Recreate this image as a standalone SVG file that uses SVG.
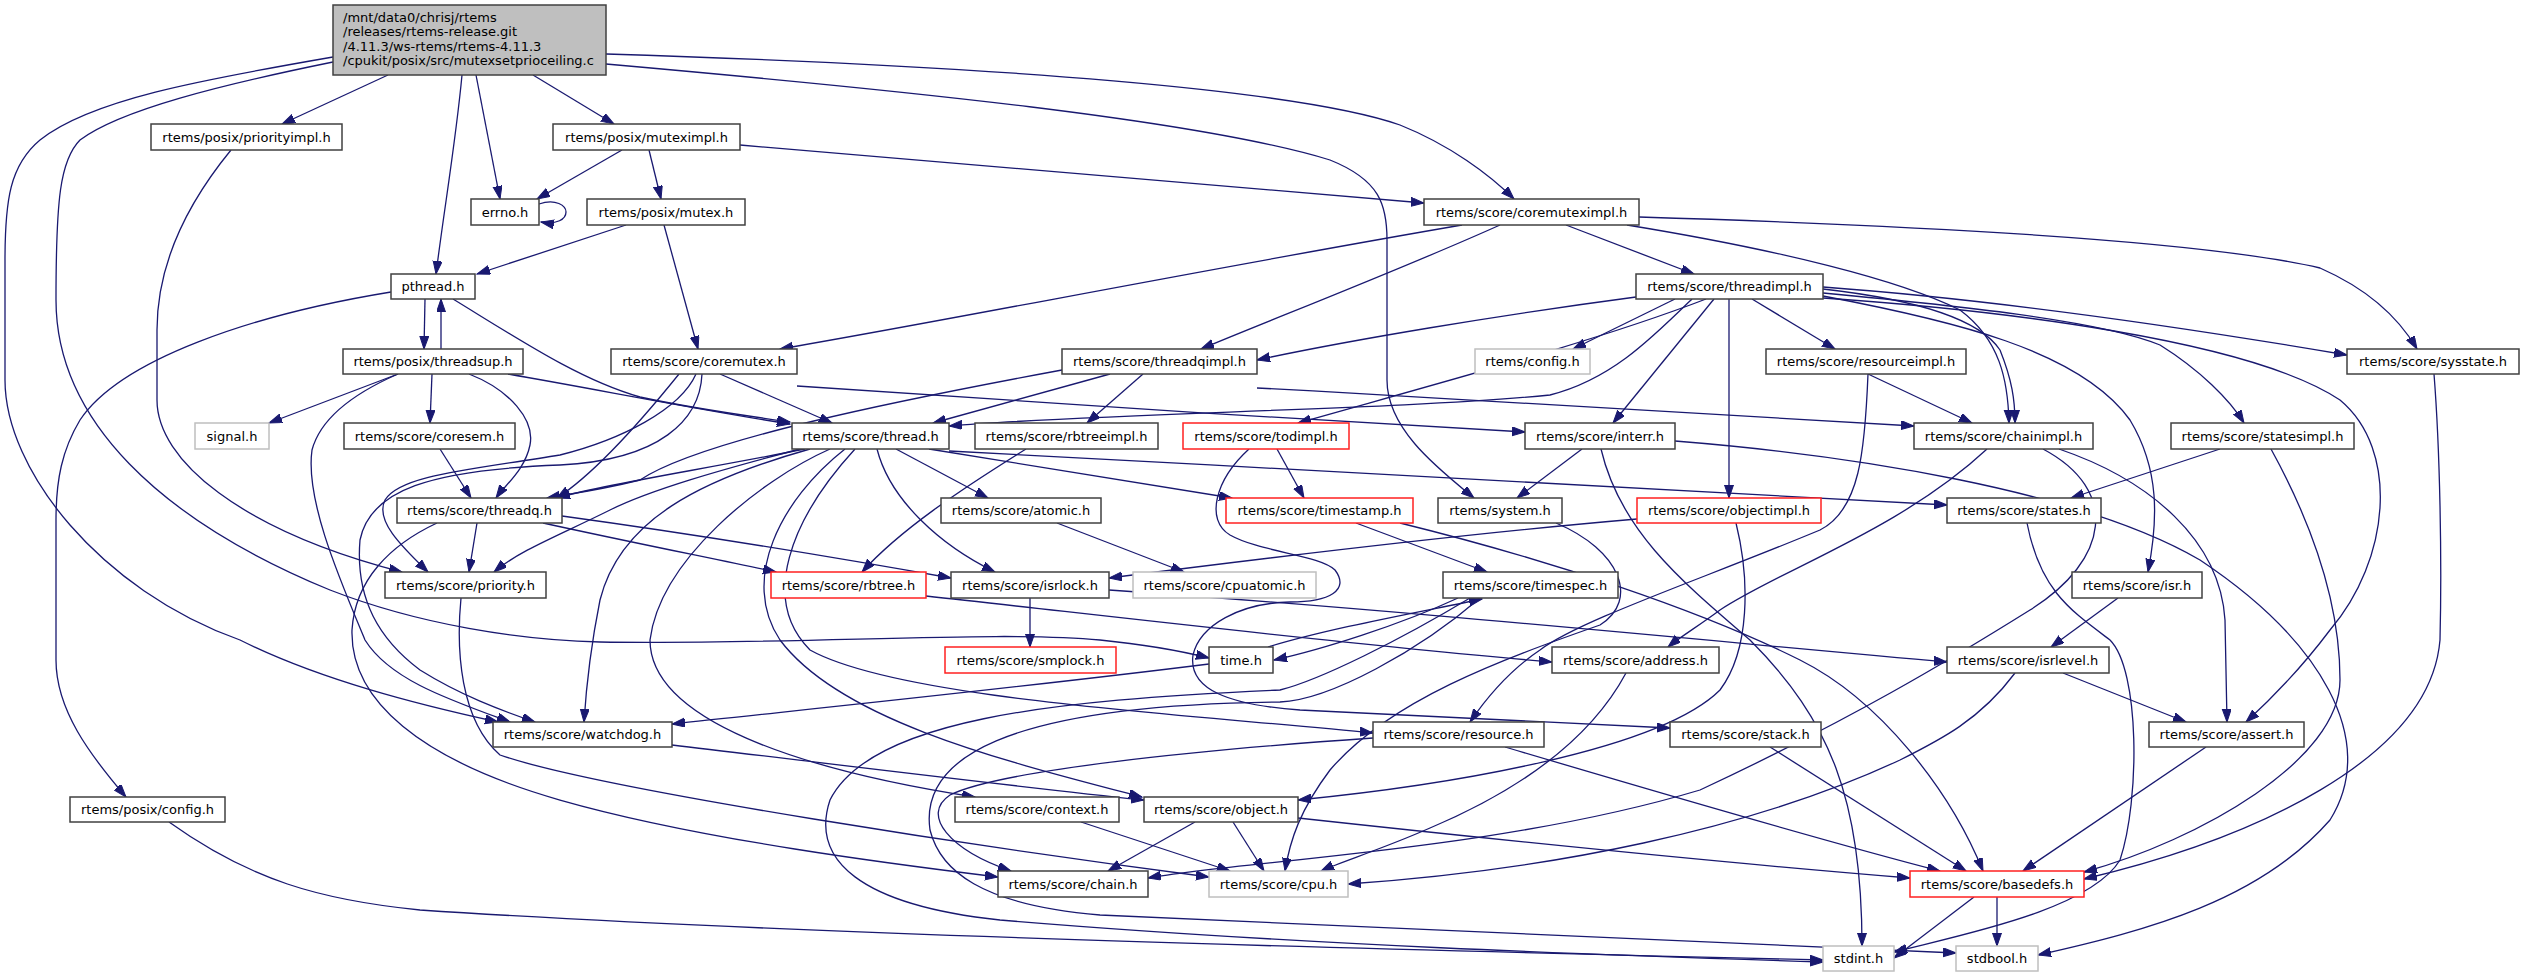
<svg xmlns="http://www.w3.org/2000/svg" width="2524" height="977" viewBox="0 0 2524 977">
<style>
.e{fill:none;stroke:#191970;stroke-width:1.3;marker-end:url(#ah)}
.n rect{fill:#fff;stroke:#404040;stroke-width:1.5}
.r rect{fill:#fff;stroke:#ff2020;stroke-width:1.5}
.g rect{fill:#fff;stroke:#bfbfbf;stroke-width:1.5}
text{font-family:"DejaVu Sans","Liberation Sans",sans-serif;font-size:13px;fill:#000}
.c{text-anchor:middle}
</style>
<defs>
<marker id="ah" markerUnits="userSpaceOnUse" markerWidth="14" markerHeight="10" refX="13" refY="4.5" orient="auto"><path d="M0,0 L13,4.5 L0,9 z" fill="#191970" stroke="#191970" stroke-width="1"/></marker>
</defs>
<rect width="2524" height="977" fill="#fff"/>
<g id="edges">
<path class="e" d="M388,75 L282,124"/>
<path class="e" d="M462,75 C456,140 444,210 436,274"/>
<path class="e" d="M476,75 L500,199"/>
<path class="e" d="M533,75 L614,124"/>
<path class="e" d="M606,54 C1000,66 1300,90 1400,125 C1450,145 1490,175 1514,199"/>
<path class="e" d="M606,64 C900,90 1200,120 1330,160 C1380,180 1387,205 1387,240 L1387,380 C1387,430 1440,470 1474,498"/>
<path class="e" d="M333,57 C200,80 90,100 40,140 C10,165 5,200 5,260 L5,380 C5,470 100,590 240,640 C320,680 420,705 498,722"/>
<path class="e" d="M333,62 C220,85 120,110 80,140 C60,160 56,200 56,300 C56,420 160,520 330,590 C420,625 520,640 600,642 C800,645 1000,630 1100,640 C1150,645 1185,652 1209,658"/>
<path class="e" d="M231,150 C190,200 157,260 157,330 L157,400 C157,460 240,530 402,572"/>
<path class="e" d="M622,150 L537,199"/>
<path class="e" d="M649,150 L661,199"/>
<path class="e" d="M740,145 C1000,168 1250,188 1424,203"/>
<path class="e" d="M539,204 C556,198 566,206 566,212 C566,219 557,225 541,222"/>
<path class="e" d="M626,225 L477,274"/>
<path class="e" d="M664,225 L698,349"/>
<path class="e" d="M1462,225 C1200,270 950,320 780,349"/>
<path class="e" d="M1500,225 C1400,270 1270,320 1201,349"/>
<path class="e" d="M1566,225 L1694,274"/>
<path class="e" d="M1627,225 C1780,250 1900,280 1960,310 C2000,340 2008,380 2009,423"/>
<path class="e" d="M1639,217 C1900,225 2200,240 2320,268 C2370,290 2400,320 2417,349"/>
<path class="e" d="M425,299 L424,349"/>
<path class="e" d="M441,349 L441,299"/>
<path class="e" d="M453,299 C520,340 580,380 640,397 C700,410 750,416 790,422"/>
<path class="e" d="M391,292 C250,315 120,360 80,420 C62,450 56,480 56,520 L56,660 C56,710 90,755 126,797"/>
<path class="e" d="M398,374 L269,423"/>
<path class="e" d="M432,374 L430,423"/>
<path class="e" d="M469,374 C510,390 535,420 530,445 C525,470 505,485 496,498"/>
<path class="e" d="M508,374 C600,390 700,410 790,424"/>
<path class="e" d="M398,374 C350,395 320,420 312,450 C305,500 340,580 365,640 C390,680 450,700 510,722"/>
<path class="e" d="M440,449 L471,498"/>
<path class="e" d="M679,374 C650,410 600,470 557,498"/>
<path class="e" d="M696,374 C680,410 620,440 560,455 C470,470 400,475 385,500 C375,520 400,545 428,572"/>
<path class="e" d="M702,374 C700,420 660,460 560,465 C430,470 370,490 360,540 C355,600 380,640 420,670 C460,695 500,710 535,722"/>
<path class="e" d="M720,374 L832,423"/>
<path class="e" d="M797,386 C1000,400 1300,420 1525,432"/>
<path class="e" d="M1110,374 L933,423"/>
<path class="e" d="M1062,370 C900,400 700,440 640,480 C600,490 570,494 547,498"/>
<path class="e" d="M1143,374 L1087,423"/>
<path class="e" d="M1257,388 C1500,400 1750,415 1914,426"/>
<path class="e" d="M1636,297 C1500,315 1350,340 1257,360"/>
<path class="e" d="M1692,299 C1650,340 1610,380 1550,395 C1400,410 1100,413 949,426"/>
<path class="e" d="M1675,299 L1573,349"/>
<path class="e" d="M1706,299 C1600,340 1450,380 1298,423"/>
<path class="e" d="M1714,299 L1613,423"/>
<path class="e" d="M1729,299 L1729,498"/>
<path class="e" d="M1752,299 L1835,349"/>
<path class="e" d="M1823,289 C1920,300 1980,320 2000,350 C2012,380 2015,400 2015,423"/>
<path class="e" d="M1823,293 C1950,305 2100,320 2160,345 C2200,370 2230,400 2244,423"/>
<path class="e" d="M1823,287 C2000,300 2200,330 2347,355"/>
<path class="e" d="M1823,296 C1950,320 2080,350 2130,420 C2160,470 2158,520 2148,572"/>
<path class="e" d="M1823,298 C2000,310 2250,340 2340,400 C2400,450 2390,560 2330,630 C2300,670 2270,700 2246,722"/>
<path class="e" d="M1868,374 L1972,423"/>
<path class="e" d="M1868,374 C1865,450 1860,510 1820,530 C1700,580 1580,620 1540,650 C1510,670 1485,700 1470,722"/>
<path class="e" d="M1026,449 C960,490 900,530 862,572"/>
<path class="e" d="M1277,449 L1304,498"/>
<path class="e" d="M1249,449 C1215,480 1205,520 1230,535 C1260,552 1320,555 1335,570 C1350,590 1330,602 1290,602 C1240,603 1200,625 1193,655 C1188,690 1230,705 1300,710 C1450,718 1580,724 1670,728"/>
<path class="e" d="M1582,449 L1517,498"/>
<path class="e" d="M1601,449 C1620,530 1680,580 1750,640 C1830,720 1862,800 1862,946"/>
<path class="e" d="M1675,441 C1850,455 2080,490 2200,560 C2320,640 2380,740 2330,820 C2260,900 2150,930 2038,955"/>
<path class="e" d="M1356,523 L1487,572"/>
<path class="e" d="M1400,523 C1550,560 1700,610 1800,660 C1880,700 1950,790 1983,871"/>
<path class="e" d="M1556,523 C1620,550 1640,600 1600,625 C1500,660 1390,700 1330,770 C1300,810 1290,840 1285,871"/>
<path class="e" d="M1637,519 C1450,535 1250,560 1109,578"/>
<path class="e" d="M1736,523 C1750,580 1750,650 1720,690 C1660,750 1450,785 1298,800"/>
<path class="e" d="M2027,523 C2040,590 2070,610 2110,640 C2140,670 2140,800 2120,860 C2090,910 1960,935 1894,952"/>
<path class="e" d="M2220,449 L2071,498"/>
<path class="e" d="M2271,449 C2310,520 2340,600 2340,680 C2340,760 2200,840 2084,872"/>
<path class="e" d="M2434,374 C2440,450 2442,560 2440,640 C2430,760 2250,840 2084,879"/>
<path class="e" d="M1987,449 C1900,530 1780,570 1720,610 C1700,625 1680,637 1668,647"/>
<path class="e" d="M2059,449 C2150,480 2220,540 2225,620 L2227,722"/>
<path class="e" d="M2043,449 C2120,490 2110,560 2030,610 C1950,660 1850,720 1700,790 C1500,850 1250,860 1148,878"/>
<path class="e" d="M2015,673 C1980,720 1940,740 1900,760 C1750,830 1550,870 1348,884"/>
<path class="e" d="M2118,598 L2051,647"/>
<path class="e" d="M2063,673 L2186,722"/>
<path class="e" d="M1030,598 L1030,647"/>
<path class="e" d="M1109,590 C1400,610 1700,640 1947,662"/>
<path class="e" d="M926,596 C1100,615 1350,645 1552,662"/>
<path class="e" d="M1057,523 L1184,572"/>
<path class="e" d="M805,449 C700,470 600,485 557,498"/>
<path class="e" d="M800,449 C720,470 650,490 610,510 C560,535 520,550 494,572"/>
<path class="e" d="M810,449 C700,480 620,520 600,600 C590,650 586,690 584,722"/>
<path class="e" d="M830,449 C760,480 660,560 650,640 C650,720 800,770 975,797"/>
<path class="e" d="M845,449 C780,500 740,580 780,640 C840,720 1000,760 1142,797"/>
<path class="e" d="M855,449 C790,520 760,600 810,650 C900,700 1200,715 1373,733"/>
<path class="e" d="M877,449 C890,500 940,545 995,572"/>
<path class="e" d="M896,449 L988,498"/>
<path class="e" d="M929,449 L1232,498"/>
<path class="e" d="M949,451 C1300,470 1700,490 1947,505"/>
<path class="e" d="M477,523 L469,572"/>
<path class="e" d="M562,516 C700,535 850,560 951,578"/>
<path class="e" d="M543,523 C620,540 720,560 776,572"/>
<path class="e" d="M437,523 C390,545 355,580 352,630 C350,700 420,760 560,800 C700,840 900,865 998,877"/>
<path class="e" d="M461,598 C456,650 460,720 500,755 C600,790 1000,850 1209,877"/>
<path class="e" d="M672,745 C800,760 1000,785 1144,800"/>
<path class="e" d="M1081,822 L1230,871"/>
<path class="e" d="M1195,822 L1108,871"/>
<path class="e" d="M1233,822 L1264,871"/>
<path class="e" d="M1298,818 C1500,840 1750,865 1910,878"/>
<path class="e" d="M1626,673 C1590,740 1520,790 1430,828 C1380,850 1340,862 1321,871"/>
<path class="e" d="M1373,738 C1200,750 1000,770 950,795 C920,815 950,850 1011,871"/>
<path class="e" d="M1505,747 C1650,790 1820,840 1940,871"/>
<path class="e" d="M1770,747 L1966,871"/>
<path class="e" d="M2206,747 L2023,871"/>
<path class="e" d="M1974,897 L1894,958"/>
<path class="e" d="M1997,897 L1997,946"/>
<path class="e" d="M169,822 C250,880 320,900 420,910 C800,935 1400,950 1823,960"/>
<path class="e" d="M1470,598 C1400,640 1320,680 1280,690 C1050,700 870,720 830,800 C810,860 860,905 1000,920 C1300,945 1600,955 1823,962"/>
<path class="e" d="M1480,598 C1420,650 1330,700 1280,702 C1000,705 920,760 930,830 C940,870 980,905 1100,915 C1500,935 1800,945 1956,953"/>
<path class="e" d="M1458,598 C1400,625 1320,650 1274,660"/>
<path class="e" d="M1268,647 C1330,628 1420,612 1482,599"/>
<path class="e" d="M1209,664 C1000,690 800,710 672,724"/>
</g>
<g id="main"><rect x="333" y="5" width="273" height="70" style="fill:#bfbfbf;stroke:#404040;stroke-width:1.5"/><text x="343" y="21.5">/mnt/data0/chrisj/rtems</text><text x="343" y="36">/releases/rtems-release.git</text><text x="343" y="50.5">/4.11.3/ws-rtems/rtems-4.11.3</text><text x="343" y="65">/cpukit/posix/src/mutexsetprioceiling.c</text></g>
<g id="n_priorityimpl" class="n"><rect x="151" y="124" width="191" height="26"/><text class="c" x="246.5" y="141.5">rtems/posix/priorityimpl.h</text></g>
<g id="n_muteximpl" class="n"><rect x="553" y="124" width="187" height="26"/><text class="c" x="646.5" y="141.5">rtems/posix/muteximpl.h</text></g>
<g id="n_errno" class="n"><rect x="471" y="199" width="68" height="26"/><text class="c" x="505" y="216.5">errno.h</text></g>
<g id="n_mutex" class="n"><rect x="587" y="199" width="158" height="26"/><text class="c" x="666" y="216.5">rtems/posix/mutex.h</text></g>
<g id="n_coremuteximpl" class="n"><rect x="1424" y="199" width="215" height="26"/><text class="c" x="1531.5" y="216.5">rtems/score/coremuteximpl.h</text></g>
<g id="n_pthread" class="n"><rect x="391" y="274" width="84" height="25"/><text class="c" x="433" y="291">pthread.h</text></g>
<g id="n_threadimpl" class="n"><rect x="1636" y="274" width="187" height="25"/><text class="c" x="1729.5" y="291">rtems/score/threadimpl.h</text></g>
<g id="n_threadsup" class="n"><rect x="343" y="349" width="180" height="25"/><text class="c" x="433" y="366">rtems/posix/threadsup.h</text></g>
<g id="n_coremutex" class="n"><rect x="611" y="349" width="186" height="25"/><text class="c" x="704" y="366">rtems/score/coremutex.h</text></g>
<g id="n_threadqimpl" class="n"><rect x="1062" y="349" width="195" height="25"/><text class="c" x="1159.5" y="366">rtems/score/threadqimpl.h</text></g>
<g id="n_config" class="g"><rect x="1475" y="349" width="115" height="25"/><text class="c" x="1532.5" y="366">rtems/config.h</text></g>
<g id="n_resourceimpl" class="n"><rect x="1766" y="349" width="200" height="25"/><text class="c" x="1866" y="366">rtems/score/resourceimpl.h</text></g>
<g id="n_sysstate" class="n"><rect x="2347" y="349" width="172" height="25"/><text class="c" x="2433" y="366">rtems/score/sysstate.h</text></g>
<g id="n_signal" class="g"><rect x="195" y="423" width="74" height="26"/><text class="c" x="232" y="440.5">signal.h</text></g>
<g id="n_coresem" class="n"><rect x="344" y="423" width="171" height="26"/><text class="c" x="429.5" y="440.5">rtems/score/coresem.h</text></g>
<g id="n_thread" class="n"><rect x="792" y="423" width="157" height="26"/><text class="c" x="870.5" y="440.5">rtems/score/thread.h</text></g>
<g id="n_rbtreeimpl" class="n"><rect x="975" y="423" width="183" height="26"/><text class="c" x="1066.5" y="440.5">rtems/score/rbtreeimpl.h</text></g>
<g id="n_todimpl" class="r"><rect x="1183" y="423" width="166" height="26"/><text class="c" x="1266" y="440.5">rtems/score/todimpl.h</text></g>
<g id="n_interr" class="n"><rect x="1525" y="423" width="150" height="26"/><text class="c" x="1600" y="440.5">rtems/score/interr.h</text></g>
<g id="n_chainimpl" class="n"><rect x="1914" y="423" width="179" height="26"/><text class="c" x="2003.5" y="440.5">rtems/score/chainimpl.h</text></g>
<g id="n_statesimpl" class="n"><rect x="2171" y="423" width="183" height="26"/><text class="c" x="2262.5" y="440.5">rtems/score/statesimpl.h</text></g>
<g id="n_threadq" class="n"><rect x="397" y="498" width="165" height="25"/><text class="c" x="479.5" y="515">rtems/score/threadq.h</text></g>
<g id="n_atomic" class="n"><rect x="941" y="498" width="160" height="25"/><text class="c" x="1021" y="515">rtems/score/atomic.h</text></g>
<g id="n_timestamp" class="r"><rect x="1226" y="498" width="187" height="25"/><text class="c" x="1319.5" y="515">rtems/score/timestamp.h</text></g>
<g id="n_system" class="n"><rect x="1438" y="498" width="124" height="25"/><text class="c" x="1500" y="515">rtems/system.h</text></g>
<g id="n_objectimpl" class="r"><rect x="1637" y="498" width="184" height="25"/><text class="c" x="1729" y="515">rtems/score/objectimpl.h</text></g>
<g id="n_states" class="n"><rect x="1947" y="498" width="154" height="25"/><text class="c" x="2024" y="515">rtems/score/states.h</text></g>
<g id="n_priority" class="n"><rect x="385" y="572" width="161" height="26"/><text class="c" x="465.5" y="589.5">rtems/score/priority.h</text></g>
<g id="n_rbtree" class="r"><rect x="771" y="572" width="155" height="26"/><text class="c" x="848.5" y="589.5">rtems/score/rbtree.h</text></g>
<g id="n_isrlock" class="n"><rect x="951" y="572" width="158" height="26"/><text class="c" x="1030" y="589.5">rtems/score/isrlock.h</text></g>
<g id="n_cpuatomic" class="g"><rect x="1133" y="572" width="183" height="26"/><text class="c" x="1224.5" y="589.5">rtems/score/cpuatomic.h</text></g>
<g id="n_timespec" class="n"><rect x="1443" y="572" width="175" height="26"/><text class="c" x="1530.5" y="589.5">rtems/score/timespec.h</text></g>
<g id="n_isr" class="n"><rect x="2072" y="572" width="130" height="26"/><text class="c" x="2137" y="589.5">rtems/score/isr.h</text></g>
<g id="n_smplock" class="r"><rect x="945" y="647" width="171" height="26"/><text class="c" x="1030.5" y="664.5">rtems/score/smplock.h</text></g>
<g id="n_time" class="n"><rect x="1209" y="647" width="64" height="26"/><text class="c" x="1241" y="664.5">time.h</text></g>
<g id="n_address" class="n"><rect x="1552" y="647" width="167" height="26"/><text class="c" x="1635.5" y="664.5">rtems/score/address.h</text></g>
<g id="n_isrlevel" class="n"><rect x="1947" y="647" width="162" height="26"/><text class="c" x="2028" y="664.5">rtems/score/isrlevel.h</text></g>
<g id="n_watchdog" class="n"><rect x="493" y="722" width="179" height="25"/><text class="c" x="582.5" y="739">rtems/score/watchdog.h</text></g>
<g id="n_resource" class="n"><rect x="1373" y="722" width="171" height="25"/><text class="c" x="1458.5" y="739">rtems/score/resource.h</text></g>
<g id="n_stack" class="n"><rect x="1670" y="722" width="151" height="25"/><text class="c" x="1745.5" y="739">rtems/score/stack.h</text></g>
<g id="n_assert" class="n"><rect x="2149" y="722" width="155" height="25"/><text class="c" x="2226.5" y="739">rtems/score/assert.h</text></g>
<g id="n_posixconfig" class="n"><rect x="70" y="797" width="155" height="25"/><text class="c" x="147.5" y="814">rtems/posix/config.h</text></g>
<g id="n_context" class="n"><rect x="955" y="797" width="164" height="25"/><text class="c" x="1037" y="814">rtems/score/context.h</text></g>
<g id="n_object" class="n"><rect x="1144" y="797" width="154" height="25"/><text class="c" x="1221" y="814">rtems/score/object.h</text></g>
<g id="n_chain" class="n"><rect x="998" y="871" width="150" height="26"/><text class="c" x="1073" y="888.5">rtems/score/chain.h</text></g>
<g id="n_cpu" class="g"><rect x="1209" y="871" width="139" height="26"/><text class="c" x="1278.5" y="888.5">rtems/score/cpu.h</text></g>
<g id="n_basedefs" class="r"><rect x="1910" y="871" width="174" height="26"/><text class="c" x="1997" y="888.5">rtems/score/basedefs.h</text></g>
<g id="n_stdint" class="g"><rect x="1823" y="946" width="71" height="25"/><text class="c" x="1858.5" y="963">stdint.h</text></g>
<g id="n_stdbool" class="g"><rect x="1956" y="946" width="82" height="25"/><text class="c" x="1997" y="963">stdbool.h</text></g>
</svg>
